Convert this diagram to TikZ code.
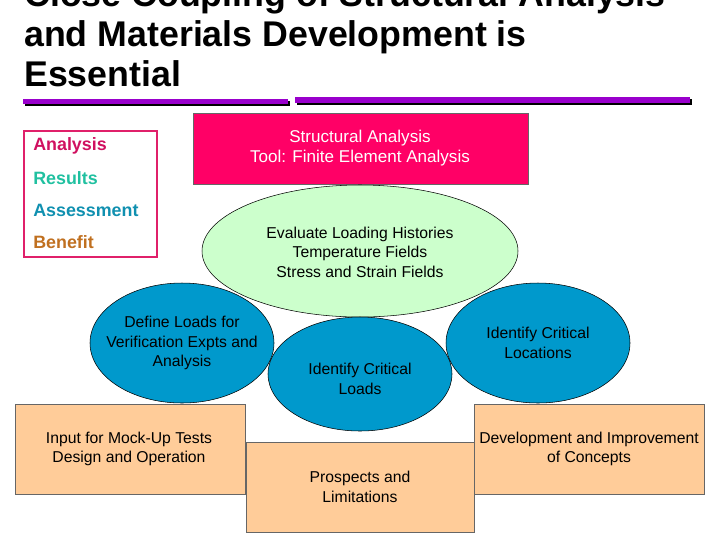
\documentclass[tikz,border=0pt]{standalone}
\usepackage{fontspec}
\setmainfont{Liberation Sans}
\usetikzlibrary{shapes.geometric}
\definecolor{pinkc}{HTML}{FF0066}
\definecolor{legb}{HTML}{E0206A}
\definecolor{ana}{HTML}{D01060}
\definecolor{res}{HTML}{20C0A0}
\definecolor{ass}{HTML}{1090B0}
\definecolor{ben}{HTML}{C07020}
\definecolor{greenc}{HTML}{CCFFCC}
\definecolor{bluec}{HTML}{0099CC}
\definecolor{orangec}{HTML}{FFCC99}
\definecolor{purp}{HTML}{9900CC}
\begin{document}
\begin{tikzpicture}[x=0.75pt,y=-0.75pt,
 txt/.style={font=\fontsize{11.8}{14.7}\selectfont,align=center,inner sep=0},
 leg/.style={font=\fontsize{13.4}{15}\selectfont\bfseries,anchor=west,inner sep=0},
 ttl/.style={font=\fontsize{26.8}{30}\selectfont\bfseries,anchor=west,inner sep=0},
 ell/.style={draw=black,line width=0.4pt},
 obox/.style={draw=black!60,fill=orangec,line width=0.6pt}]
\useasboundingbox (0,0) rectangle (720,540);
\clip (0,0) rectangle (720,540);
% title
\node[ttl] (t0) at (24,-3) {Close Coupling of Structural Analysis};
\node[ttl] (t1) at (24,37) {and Materials Development is};
\node[ttl] (t2) at (24,74) {Essential};
% purple bar
\fill[black] (25,101) rectangle (290,106);
\fill[black] (297,99) rectangle (692,105);
\fill[purp] (23,99) rectangle (288,104);
\fill[purp] (295,97) rectangle (690,103);
% legend
\draw[legb,line width=2pt] (24,131) rectangle (157,257);
\node[leg,text=ana] (la) at (33,146) {Analysis};
\node[leg,text=res] (lr) at (33,178) {Results};
\node[leg,text=ass] (ls) at (33,210) {Assessment};
\node[leg,text=ben] (lb) at (33,242) {Benefit};
% pink box
\draw[fill=pinkc,draw=black!60] (193,113) rectangle (528,184);
\node[txt,text=white,font=\fontsize{12.8}{15}\selectfont] (sa) at (360,148) {Structural Analysis\\Tool: Finite Element Analysis};
% green ellipse
\draw[ell,fill=greenc] (360,251) ellipse [x radius=158,y radius=66];
\node[txt] (ev) at (360,252) {Evaluate Loading Histories\\Temperature Fields\\Stress and Strain Fields};
% blue ellipses
\draw[ell,fill=bluec] (182,343) ellipse [x radius=92,y radius=60];
\node[txt] (dl) at (182,343) {Define Loads for\\Verification Expts and\\Analysis};
\draw[ell,fill=bluec] (538,343) ellipse [x radius=92,y radius=60];
\node[txt] (icl) at (538,343) {Identify Critical\\Locations};
\draw[ell,fill=bluec] (360,374) ellipse [x radius=92,y radius=57];
\node[txt] (ild) at (360,379) {Identify Critical\\Loads};
% orange boxes
\draw[obox] (15,404) rectangle (245,494);
\node[txt] (im) at (129,449) {Input for Mock-Up Tests\\Design and Operation};
\draw[obox] (474,404) rectangle (704,494);
\node[txt] (di) at (589,449) {Development and Improvement\\of Concepts};
\draw[obox] (246,442) rectangle (474,532);
\node[txt] (pl) at (360,487) {Prospects and\\Limitations};
\end{tikzpicture}
\end{document}
